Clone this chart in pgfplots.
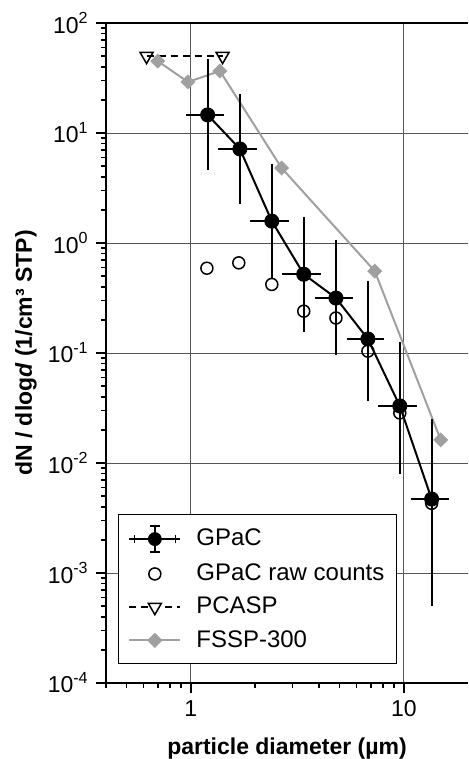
\documentclass[border=0pt]{standalone}
\usepackage{fontspec}
\setmainfont{Liberation Sans}
\usepackage{pgfplots}
\pgfplotsset{compat=1.18}
\definecolor{fssp}{HTML}{A0A0A0}
\definecolor{gridc}{HTML}{555555}
\begin{document}
\fontsize{23}{27}\selectfont
\begin{tikzpicture}
\begin{axis}[
  scale only axis, width=362pt, height=660pt,
  xmode=log, ymode=log,
  xmin=0.4, xmax=20, ymin=1e-4, ymax=1e2,
  axis x line*=box, axis y line*=left,
  axis line style={-, line width=2.5pt, black},
  xtick pos=left, ytick pos=left, tick align=outside,
  xtick={1,10}, xticklabels={1,10},
  minor xtick={0.4,0.5,0.6,0.7,0.8,0.9,2,3,4,5,6,7,8,9},
  ytick={1e-4,1e-3,1e-2,1e-1,1,10,100},
  yticklabels={10\textsuperscript{-4},10\textsuperscript{-3},10\textsuperscript{-2},10\textsuperscript{-1},10\textsuperscript{0},10\textsuperscript{1},10\textsuperscript{2}},
  minor ytick={2e-4,3e-4,4e-4,5e-4,6e-4,7e-4,8e-4,9e-4,
               2e-3,3e-3,4e-3,5e-3,6e-3,7e-3,8e-3,9e-3,
               2e-2,3e-2,4e-2,5e-2,6e-2,7e-2,8e-2,9e-2,
               0.2,0.3,0.4,0.5,0.6,0.7,0.8,0.9,
               2,3,4,5,6,7,8,9,20,30,40,50,60,70,80,90},
  major tick length=10pt, minor tick length=5pt,
  every tick/.style={black, line width=1.5pt},
  grid=major, major grid style={gridc, line width=0.9pt},
  xlabel={\textbf{particle diameter (µm)}},
  ylabel={\textbf{dN / dlog\textit{d} (1/cm³ STP)}},
  xlabel style={at={(axis description cs:0.5,-0.109)}, anchor=base},
  ylabel style={at={(axis description cs:-0.221,0.5)}, anchor=center},
  legend style={at={(axis description cs:0.033,0.029)}, anchor=south west,
    draw=black, line width=0.8pt, fill=white, inner xsep=10pt, inner ysep=11pt,
    column sep=13pt, row sep=9pt, font=\fontsize{24}{28}\selectfont},
  legend cell align=left,
]
\addlegendimage{legend image code/.code={
  \draw[black, line width=2pt, solid] (0pt,0pt) -- (51pt,0pt);
  \draw[black, line width=1.5pt, solid] (5pt,-4pt) -- (5pt,4pt) (46pt,-4pt) -- (46pt,4pt);
  \draw[black, line width=1.5pt, solid] (25.5pt,-13pt) -- (25.5pt,13pt) (20.5pt,13pt) -- (30.5pt,13pt) (20.5pt,-13pt) -- (30.5pt,-13pt);
  \fill[black] (25.5pt,0pt) circle (6.5pt);
}}
\addlegendentry{GPaC}
\addlegendimage{legend image code/.code={
  \path[draw=none] (0pt,0pt) -- (51pt,0pt);
  \draw[black, line width=1.5pt, solid] (25.5pt,0pt) circle (6pt);
}}
\addlegendentry{GPaC raw counts}
\addlegendimage{legend image code/.code={
  \draw[black, line width=1.5pt, dash pattern=on 7pt off 5pt] (0pt,0pt) -- (51pt,0pt);
  \draw[black, line width=1.5pt, solid, fill=white] (25.5pt,-7.5pt) -- (19pt,3.75pt) -- (32pt,3.75pt) -- cycle;
}}
\addlegendentry{PCASP}
\addlegendimage{legend image code/.code={
  \draw[fssp, line width=2pt, solid] (0pt,0pt) -- (51pt,0pt);
  \fill[fssp] (25.5pt,7pt) -- (32.5pt,0pt) -- (25.5pt,-7pt) -- (18.5pt,0pt) -- cycle;
}}
\addlegendentry{FSSP-300}

% PCASP
\addplot[black, line width=1.5pt, dash pattern=on 7pt off 5pt, mark=triangle, mark size=7.5pt,
  mark options={solid, rotate=180, fill=white}, forget plot]
  coordinates {(0.62,50) (1.41,50)};
% FSSP-300
\addplot[fssp, line width=2pt, mark=square*, mark size=4.3pt,
  mark options={rotate=45, fssp}, forget plot]
  coordinates {(0.70,45) (0.97,29.1) (1.37,36.6) (2.67,4.8) (7.3,0.556) (14.9,0.0162)};
% GPaC raw counts
\addplot[black, only marks, mark=o, mark size=6pt, line width=1.5pt, forget plot]
  coordinates {(1.19,0.59) (1.68,0.66) (2.40,0.42) (3.39,0.24) (4.80,0.208) (6.78,0.104) (9.57,0.0285) (13.5,0.0043)};
% GPaC
\addplot[black, line width=2pt, mark=*, mark size=6.5pt, forget plot,
  error bars/.cd, x dir=both, x explicit, y dir=both, y explicit,
  error mark=none, error bar style={line width=2pt, black}]
  table[x=x, y=y, x error plus=xp, x error minus=xm, y error plus=yp, y error minus=ym] {
x     y       xm    xp    ym      yp
1.20  14.6    0.25  0.23  10.0    32.4
1.70  7.16    0.36  0.34  4.90    15.44
2.40  1.58    0.51  0.48  1.10    3.62
3.39  0.52    0.72  0.69  0.365   1.20
4.80  0.316   0.98  0.96  0.220   0.744
6.78  0.134   1.38  1.32  0.097   0.316
9.57  0.033   1.97  1.93  0.0251  0.093
13.5  0.0047  2.7   2.8   0.0042  0.0203
};
\end{axis}
\pgfresetboundingbox
\path[use as bounding box] ([xshift=-106pt,yshift=-76pt]current axis.south west) rectangle ([yshift=23pt]current axis.north east);
\end{tikzpicture}
\end{document}
